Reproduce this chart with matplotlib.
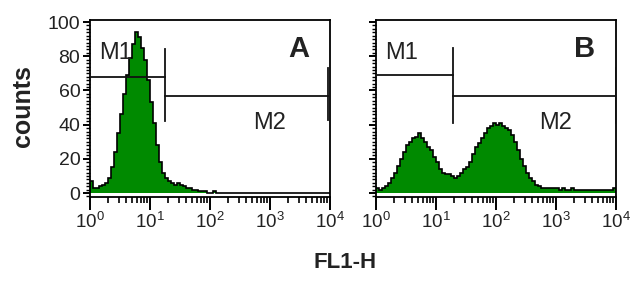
import numpy as np
import matplotlib
matplotlib.use("Agg")
import matplotlib.pyplot as plt
from matplotlib.ticker import FixedLocator, MultipleLocator, NullFormatter

plt.rcParams['font.family'] = ['Liberation Sans', 'DejaVu Sans']
plt.rcParams['mathtext.fontset'] = 'custom'
plt.rcParams['mathtext.rm'] = 'Liberation Sans'
plt.rcParams['mathtext.it'] = 'Liberation Sans'

# histogram bins: 20 per decade, 10^0 .. 10^4
n_per_decade = 20
edges = 10 ** (np.arange(0, 4 * n_per_decade + 1) / n_per_decade)

counts_A = [7, 3, 3, 4, 5, 6, 9, 15, 24, 35,
            46, 58, 69, 79, 87, 94, 91, 85, 78, 66,
            53, 41, 28, 18, 12, 9, 7, 6, 5, 6,
            5, 4, 3, 3, 2, 2, 1, 1, 1, 0,
            0, 1, 0, 0, 0, 0, 0, 0, 0, 0,
            0, 0, 0, 0, 0, 0, 0, 0, 0, 0,
            0, 0, 0, 0, 0, 0, 0, 0, 0, 0,
            0, 0, 0, 0, 0, 0, 0, 0, 0, 0]

counts_B = [3, 2, 3, 4, 6, 9, 12, 16, 20, 24,
            28, 30, 32, 33, 35, 32, 30, 27, 25, 21,
            18, 14, 12, 11, 11, 10, 9, 10, 12, 14,
            15, 18, 23, 27, 29, 32, 35, 38, 39, 41,
            40, 41, 39, 38, 37, 34, 30, 25, 20, 16,
            12, 9, 7, 5, 4, 3, 3, 3, 3, 3,
            3, 2, 3, 2, 2, 3, 2, 2, 2, 2,
            2, 2, 2, 2, 2, 2, 2, 2, 2, 3]

panel_labels = ['A', 'B']
gate_M1_level = [68, 69]
gate_split = [18, 19]
gate_M2_level = [57, 57]
gate_bar_low = [42, 41]
gate_bar_high = [84, 85]
gate_end_low = [43, 41]
gate_end_high = [73, 73]
gate_end = [9300, 9900]

yticks = [0, 20, 40, 60, 80, 100]
xticks = [1, 10, 100, 1000, 10000]
xticklabels = [r'$10^{0}$', r'$10^{1}$', r'$10^{2}$', r'$10^{3}$', r'$10^{4}$']

green = '#008a00'
txt = '#222222'

fig = plt.figure(figsize=(6.4, 2.82), dpi=100)
axA = fig.add_axes([90 / 640, 1 - 197 / 282, 240 / 640, 177 / 282])
axB = fig.add_axes([376 / 640, 1 - 197 / 282, 240 / 640, 177 / 282])

for k, (ax, counts) in enumerate(zip([axA, axB], [counts_A, counts_B])):
    ax.stairs(counts, edges, fill=True, color=green, zorder=2)
    ax.stairs(counts, edges, color='black', linewidth=1.2, zorder=3)
    ax.set_xscale('log')
    ax.set_xlim(1, 10000)
    ax.set_ylim(-2.3, 101.2)
    ax.xaxis.set_major_locator(FixedLocator(xticks))
    ax.set_xticklabels(xticklabels, fontsize=13.5, color=txt)
    ax.xaxis.set_minor_locator(FixedLocator(
        [m * 10 ** d for d in range(4) for m in range(2, 10)]))
    ax.xaxis.set_minor_formatter(NullFormatter())
    ax.yaxis.set_major_locator(FixedLocator(yticks))
    ax.yaxis.set_minor_locator(MultipleLocator(2))
    if k == 0:
        ax.set_yticklabels([str(v) for v in yticks], fontsize=14, color=txt)
    else:
        ax.set_yticklabels([])
    ax.tick_params(axis='x', which='major', length=9, width=1.4, direction='out', pad=2)
    ax.tick_params(axis='x', which='minor', length=4.5, width=1.2, direction='out')
    ax.tick_params(axis='y', which='major', length=5, width=1.4, direction='out', pad=2)
    ax.tick_params(axis='y', which='minor', length=3, width=1.0, direction='out')
    for s in ax.spines.values():
        s.set_linewidth(1.3)

    gk = dict(color='#111111', linewidth=1.3, zorder=4)
    ax.plot([1, gate_split[k]], [gate_M1_level[k]] * 2, **gk)
    ax.plot([gate_split[k], gate_end[k]], [gate_M2_level[k]] * 2, **gk)
    ax.plot([gate_split[k]] * 2, [gate_bar_low[k], gate_bar_high[k]], **gk)
    ax.plot([gate_end[k]] * 2, [gate_end_low[k], gate_end_high[k]], **gk)

    ax.text(1.4, 82, 'M1', fontsize=17, color=txt, ha='left', va='center', zorder=5)
    ax.text(1000, 41, 'M2', fontsize=17, color=txt,
            ha='center', va='center', zorder=5)
    ax.text(0.87, 0.835, panel_labels[k], transform=ax.transAxes, fontsize=21,
            fontweight='bold', color=txt, ha='center', va='center')

fig.text(23 / 640, 1 - 106 / 282, 'counts', rotation=90, fontsize=18,
         fontweight='bold', ha='center', va='center', color=txt)
fig.text(345 / 640, 1 - 262 / 282, 'FL1-H', fontsize=16, fontweight='bold',
         ha='center', va='center', color=txt)

fig.savefig('out.png', dpi=100)
